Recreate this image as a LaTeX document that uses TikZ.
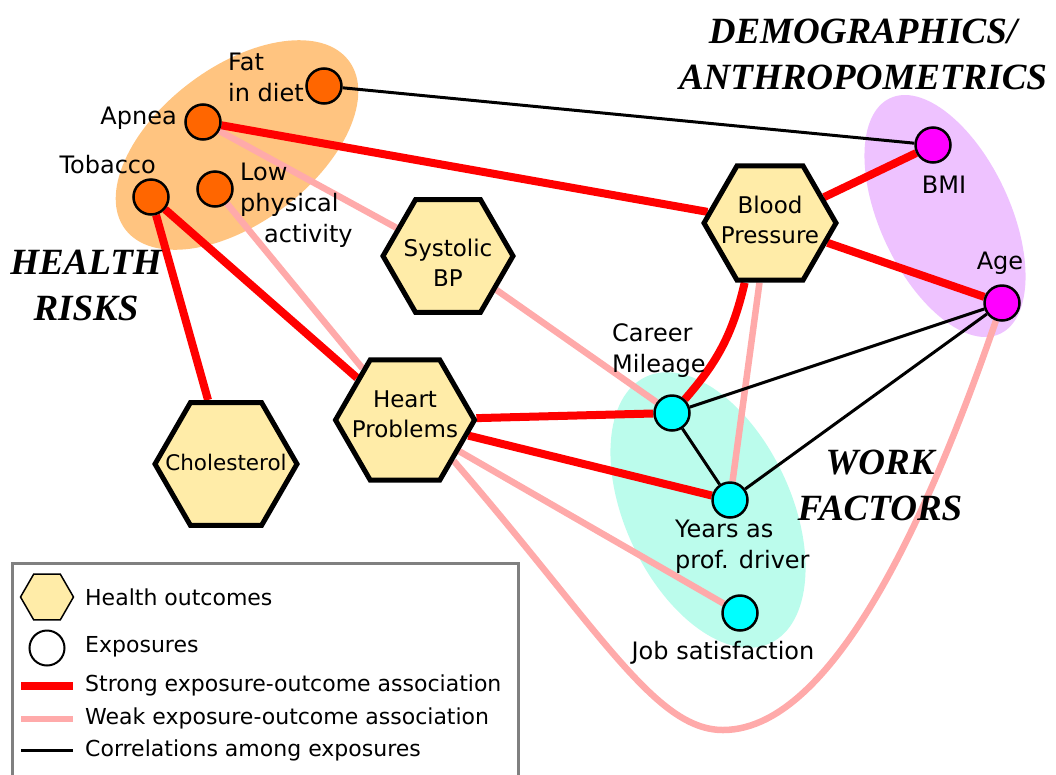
\documentclass[tikz,border=0pt]{standalone}
\usepackage{fontspec}
\setmainfont{DejaVu Sans}
\newfontfamily\titlefont{Liberation Serif}
\usetikzlibrary{shapes.geometric}

\definecolor{riskblob}{RGB}{255,196,128}
\definecolor{demoblob}{RGB}{238,194,255}
\definecolor{workblob}{RGB}{187,252,236}
\definecolor{riskdot}{RGB}{255,102,0}
\definecolor{demodot}{RGB}{255,0,255}
\definecolor{workdot}{RGB}{0,255,255}
\definecolor{outcomefill}{RGB}{255,236,168}
\definecolor{weakpink}{RGB}{255,170,170}
\definecolor{keygray}{RGB}{128,128,128}

\pgfdeclarelayer{blobs}
\pgfdeclarelayer{links}
\pgfsetlayers{blobs,links,main}

\tikzset{
  outcome/.style={regular polygon, regular polygon sides=6, draw=black, line width=5pt,
    fill=outcomefill, minimum size=#1, inner sep=0pt},
  outcome/.default=132pt,
  outcometext/.style={inner sep=0pt, align=center, font=\fontsize{23}{30}\selectfont},
  exposure/.style={circle, draw=black, line width=2.5pt, minimum size=35pt, inner sep=0pt},
  strong/.style={line width=8pt, red},
  weak/.style={line width=6.5pt, weakpink},
  corr/.style={line width=3pt, black},
  lbl/.style={inner sep=0pt, align=left, font=\fontsize{24}{31}\selectfont},
  keytext/.style={inner sep=0pt, anchor=west, font=\fontsize{22}{26}\selectfont},
  grouptitle/.style={inner sep=0pt, align=center,
    font=\titlefont\bfseries\itshape\fontsize{37}{46}\selectfont},
}

\begin{document}
\begin{tikzpicture}[x=1pt, y=-1pt]
  \useasboundingbox (0,0) rectangle (1056,774);

  % exposure groups
  \begin{pgfonlayer}{blobs}
    \fill[riskblob] (237,145) circle [x radius=140, y radius=78, rotate=37];
    \fill[demoblob] (945,216) circle [x radius=130, y radius=65, rotate=-65];
    \fill[workblob] (708,510) circle [x radius=147, y radius=83, rotate=-65];
  \end{pgfonlayer}

  \node[grouptitle] (demotitle) at (863,54) {DEMOGRAPHICS/\\ANTHROPOMETRICS};
  \node[grouptitle] (risktitle) at (86,285) {HEALTH\\RISKS};
  \node[grouptitle] (worktitle) at (880,485) {WORK\\FACTORS};

  % health risks
  \node[exposure, fill=riskdot] (fat) at (324,86) {};
  \node[exposure, fill=riskdot] (apnea) at (203,122) {};
  \node[exposure, fill=riskdot] (tobacco) at (151,197) {};
  \node[exposure, fill=riskdot] (lowpa) at (215,189) {};
  \node[lbl, anchor=west] (fattxt) at (228,77) {Fat\\in diet};
  \node[lbl, anchor=east] (apneatxt) at (177,118) {Apnea};
  \node[lbl, anchor=east] (tobaccotxt) at (156,165) {Tobacco};
  \node[lbl, anchor=west] (lowpatxt) at (240,205) {Low\\physical\\\hspace*{1em}activity};

  % demographics
  \node[exposure, fill=demodot] (bmi) at (933,145) {};
  \node[exposure, fill=demodot] (age) at (1002,303) {};
  \node[lbl] (bmitxt) at (944,185) {BMI};
  \node[lbl] (agetxt) at (1000,263) {Age};

  % work factors
  \node[exposure, fill=workdot] (career) at (672,413) {};
  \node[exposure, fill=workdot] (years) at (730,500) {};
  \node[exposure, fill=workdot] (jobsat) at (740,613) {};
  \node[lbl, anchor=west] (careertxt) at (612,351) {Career\\Mileage};
  \node[lbl, anchor=west] (yearstxt) at (675,547) {Years as\\prof. driver};
  \node[lbl] (jobsattxt) at (723,653) {Job satisfaction};

  % outcomes
  \node[outcome=130pt, label={[outcometext, yshift=-7pt]center:Systolic\\BP}] (sysbp) at (448,256) {};
  \node[outcome=132pt, label={[outcometext, yshift=3pt]center:Blood\\Pressure}] (bp) at (770,223) {};
  \node[outcome=139pt, label={[outcometext, yshift=6pt]center:Heart\\Problems}] (heart) at (405,420) {};
  \node[outcome=142pt, label={[outcometext, yshift=2pt, font=\fontsize{21.5}{30}\selectfont]center:Cholesterol}] (chol) at (226,464) {};

  \coordinate (dip) at (723,730);

  \begin{pgfonlayer}{links}
    \draw[corr] (fat) -- (bmi);
    \draw[weak] (apnea) -- (sysbp);
    \draw[weak] (lowpa) -- (heart);
    \draw[weak] (sysbp) -- (career);
    \draw[weak] (bp.-100) -- (years);
    \draw[weak] (heart) -- (jobsat);
    \draw[weak] (heart.-40) .. controls (600,630) and (655,730) .. (dip)
      .. controls (843,730) and (944,471) .. (age);
    \draw[strong] (apnea) -- (bp);
    \draw[strong] (tobacco) -- (chol);
    \draw[strong] (tobacco) -- (heart);
    \draw[strong] (heart) -- (career);
    \draw[strong] (heart) -- (years);
    \draw[strong] (bp) -- (bmi);
    \draw[strong] (bp) -- (age);
    \draw[strong] (career) to[bend right=14] (bp.-113);
    \draw[corr] (career) -- (age);
    \draw[corr] (career) -- (years);
    \draw[corr] (years) -- (age);
  \end{pgfonlayer}

  % key
  \draw[keygray, line width=3pt, fill=white] (12,563) rectangle (518,800);
  \node[outcome=53pt, line width=1.5pt] (keyoutcome) at (47,597) {};
  \node[exposure, fill=white, line width=2pt] (keyexposure) at (47,648) {};
  \coordinate (keystrongA) at (21,686);
  \coordinate (keystrongB) at (73,686);
  \coordinate (keyweakA) at (21,719);
  \coordinate (keyweakB) at (73,719);
  \coordinate (keycorrA) at (21,750);
  \coordinate (keycorrB) at (73,750);
  \draw[strong] (keystrongA) -- (keystrongB);
  \draw[weak] (keyweakA) -- (keyweakB);
  \draw[corr] (keycorrA) -- (keycorrB);
  \node[keytext] (keyoutcometxt) at (85,597) {Health outcomes};
  \node[keytext] (keyexposuretxt) at (85,647) {Exposures};
  \node[keytext] (keystrongtxt) at (85,685) {Strong exposure-outcome association};
  \node[keytext] (keyweaktxt) at (85,718) {Weak exposure-outcome association};
  \node[keytext] (keycorrtxt) at (85,750) {Correlations among exposures};
\end{tikzpicture}
\end{document}
